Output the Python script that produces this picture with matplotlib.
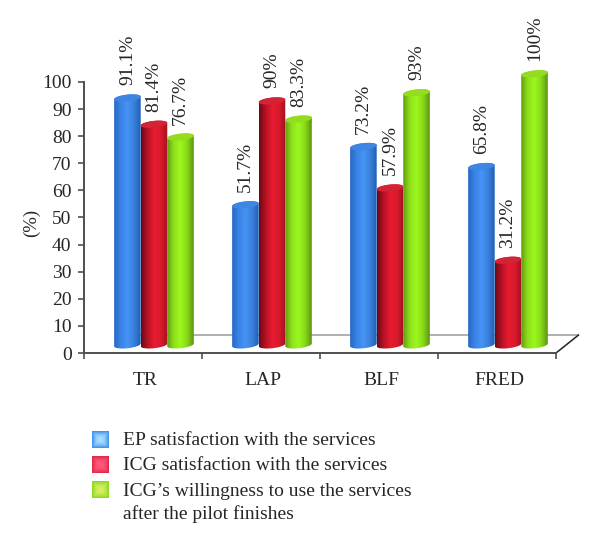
import numpy as np
import matplotlib
matplotlib.use("Agg")
import matplotlib.pyplot as plt
from matplotlib.colors import LinearSegmentedColormap, to_rgb
from matplotlib.patches import Polygon

plt.rcParams['font.family'] = ['Liberation Serif', 'DejaVu Serif']

categories = ["TR", "LAP", "BLF", "FRED"]
ep_satisfaction = [91.1, 51.7, 73.2, 65.8]
icg_satisfaction = [81.4, 90, 57.9, 31.2]
icg_willingness = [76.7, 83.3, 93, 100]
value_labels = [
    ["91.1%", "51.7%", "73.2%", "65.8%"],
    ["81.4%", "90%", "57.9%", "31.2%"],
    ["76.7%", "83.3%", "93%", "100%"],
]
legend_labels = [
    "EP satisfaction with the services",
    "ICG satisfaction with the services",
    "ICG\u2019s willingness to use the services\nafter the pilot finishes",
]
yticks = list(range(0, 101, 10))

TXT = "#262626"
AXC = "#4d5050"
grads = [
    ["#2566c4", "#3a84e6", "#4694f6", "#3a80dc", "#1f5fb4"],
    ["#6a0a14", "#b81226", "#e81c30", "#d81a2c", "#a01020"],
    ["#5f9c10", "#8fe01c", "#9cf81e", "#88d818", "#5a9410"],
]
caps = ["#3f86e4", "#d42236", "#94dc1e"]
legend_cols = [("#3f8fe8", "#a8e0ff"), ("#e02848", "#ff5a80"), ("#88d820", "#d8f060")]

fig = plt.figure(figsize=(6, 5.46), dpi=100, facecolor="white")
ax = fig.add_axes([84/600, (546-353)/546, (556-84)/600, (353-82)/546])
ax.set_xlim(-0.5, 3.5)
ax.set_ylim(0, 100)
ax.set_facecolor("none")

base = 3.0
hw = 0.1125
hh = 1.25
skew = 0.5
dx = 0.225
shift = 0.093
t = np.linspace(0, 2*np.pi, 73)
series = [ep_satisfaction, icg_satisfaction, icg_willingness]

# floor lines
ax.plot([-0.2, 3.69], [6.6, 6.6], color="#a3abab", lw=1.3, clip_on=False, zorder=1)
ax.plot([3.5, 3.69], [0, 6.6], color="#222222", lw=1.1, clip_on=False, zorder=1)

for s, vals in enumerate(series):
    cmap = LinearSegmentedColormap.from_list(f"g{s}", grads[s])
    grad = np.linspace(0, 1, 128).reshape(1, -1)
    for i, v in enumerate(vals):
        cx = i + shift + (s - 1) * dx
        top = base + v
        tt = np.linspace(0, np.pi, 37)
        upper = np.c_[cx + hw*np.cos(tt), top + hh*np.sin(tt) + skew*np.cos(tt)]
        tb = np.linspace(np.pi, 2*np.pi, 37)
        lower = np.c_[cx + hw*np.cos(tb), base + hh*np.sin(tb) + skew*np.cos(tb)]
        poly = Polygon(np.r_[upper, lower], closed=True, transform=ax.transData,
                       facecolor="none", edgecolor="none", clip_on=False)
        ax.add_patch(poly)
        im = ax.imshow(grad, cmap=cmap, aspect="auto", interpolation="bilinear",
                       extent=(cx-hw, cx+hw, base-3, top+3), zorder=2+s*0.1+i*0.001)
        im.set_clip_box(fig.bbox)
        im.set_clip_path(poly)
        cap = np.c_[cx + hw*np.cos(t), top + hh*np.sin(t) + skew*np.cos(t)]
        ax.add_patch(Polygon(cap, closed=True, facecolor=caps[s], edgecolor="none",
                             zorder=2+s*0.1+i*0.001+0.0005, clip_on=False))
        ax.annotate(value_labels[s][i], (cx, top), xytext=(0, 9),
                    textcoords="offset points", rotation=90, ha="center", va="bottom",
                    fontsize=14, color=TXT, zorder=5, annotation_clip=False)

ax.set_xlim(-0.5, 3.5)
ax.set_ylim(0, 100)

for side in ("top", "right"):
    ax.spines[side].set_visible(False)
for side in ("left", "bottom"):
    ax.spines[side].set_color(AXC)
    ax.spines[side].set_linewidth(1.4)

ax.set_yticks(yticks)
ax.tick_params(axis="y", length=4, width=1.2, color=AXC, labelsize=14, labelcolor=TXT, pad=5)
ax.set_xticks(np.arange(-0.5, 4, 1))
ax.set_xticklabels([])
ax.tick_params(axis="x", length=4, width=1.2, color=AXC)
ax.set_xticks(np.arange(len(categories)) + 0.02, minor=True)
ax.set_xticklabels(categories, minor=True, fontsize=14, color=TXT)
ax.tick_params(axis="x", which="minor", length=0, pad=14)
fig.text(31/600, 1-223/546, "(%)", rotation=90, ha="center", va="center", fontsize=13.5, color=TXT)

# legend
lax = fig.add_axes([0, 0, 1, 1], zorder=-1)
lax.axis("off")
yy, xx = np.mgrid[-1:1:32j, -1:1:32j]
r = np.clip(np.maximum(np.abs(xx), np.abs(yy)), 0, 1)
for (edge, mid), y0 in zip(legend_cols, [431, 456, 481]):
    e, m = np.array(to_rgb(edge)), np.array(to_rgb(mid))
    img = (m[None, None, :] * (1 - r[..., None]**2) + e[None, None, :] * r[..., None]**2)
    lax.imshow(img, extent=(92, 109, y0+17, y0), aspect="auto", interpolation="bilinear")
lax.set_xlim(0, 600)
lax.set_ylim(546, 0)
for lab, yc in zip(legend_labels, [441, 466, 491.5]):
    lax.text(123, yc - 9, lab, ha="left", va="top", fontsize=14, color=TXT, linespacing=1.4)

fig.savefig("out.png", dpi=100, facecolor="white")
